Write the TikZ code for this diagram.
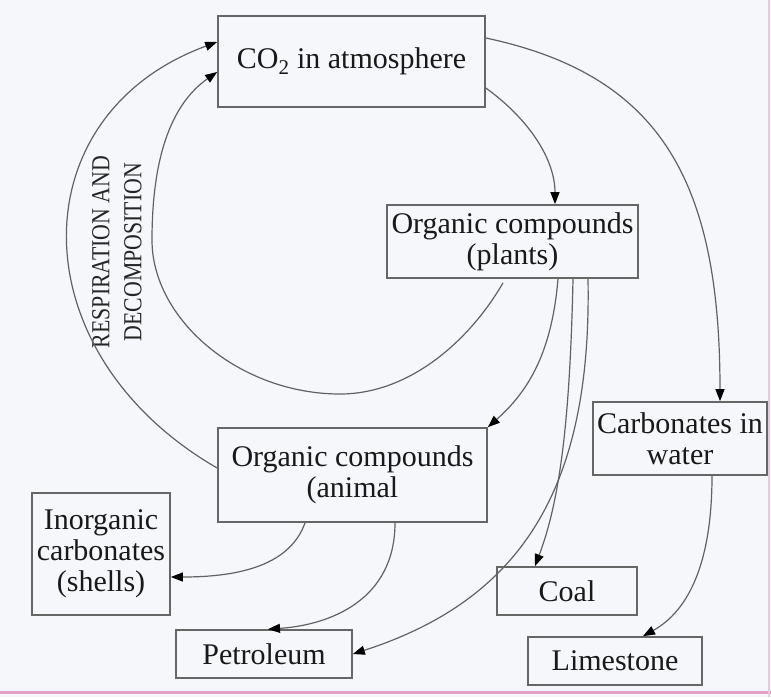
\documentclass[tikz,border=0pt]{standalone}
\usepackage{fontspec}
\setmainfont{Liberation Serif}
\newfontfamily\lblfont[FakeStretch=0.84]{Liberation Serif}
\usetikzlibrary{arrows.meta,calc}
\definecolor{edgepink}{RGB}{230,160,195}
\definecolor{bgpaper}{RGB}{246,247,251}
\begin{document}
\begin{tikzpicture}[x=1pt,y=-1pt,
  box/.style={draw=black!60, line width=1.7pt, inner sep=0pt, align=center,
    font=\fontsize{30}{31}\selectfont, text=black!90},
  conn/.style={draw=black!62, line width=1.2pt, -{Triangle[length=12pt,width=9pt,fill=black,color=black]}},
  lbl/.style={align=center, font=\lblfont\fontsize{26}{32}\selectfont, text=black!85, inner sep=0pt}
]
\fill[bgpaper] (0,0) rectangle (771,697);
\useasboundingbox (0,0) rectangle (771,697);
\draw[edgepink, line width=3pt] (0,692) -- (771,692);
\draw[edgepink!60, line width=2pt] (769,0) -- (769,697);

\node[box, minimum width=267pt, minimum height=91pt] (co2) at (351.5,61.5) {CO\textsubscript{2} in atmosphere};
\node[box, minimum width=251pt, minimum height=73pt] (plants) at (512.5,241.5) {Organic compounds\\(plants)};
\node[box, minimum width=269pt, minimum height=94pt] (animal) at (352.5,475) {Organic compounds\\(animal};
\node[box, minimum width=138pt, minimum height=122pt] (inorg) at (101,554) {Inorganic\\carbonates\\(shells)};
\node[box, minimum width=176pt, minimum height=48pt] (petro) at (264,654) {Petroleum};
\node[box, minimum width=174pt, minimum height=73pt] (water) at (680,438.5) {Carbonates in\\water};
\node[box, minimum width=140pt, minimum height=48pt] (coal) at (567,591) {Coal};
\node[box, minimum width=174pt, minimum height=48pt] (lime) at (615,661) {Limestone};
\node[lbl, rotate=90] (resp) at (117,252) {RESPIRATION AND\\DECOMPOSITION};

\draw[conn] ($(animal.west)+(0,-7)$) .. controls (18,353) and (18,115) .. ($(co2.west)+(0,-19.5)$);
\draw[conn] ($(plants.south)+(-9.5,4)$) .. controls (470,340) and (410,394) .. (340,394)
  .. controls (240,394) and (152,320) .. (152,240)
  .. controls (152,160) and (170,105) .. ($(co2.west)+(0,10.5)$);
\draw[conn] ($(co2.east)+(0,26.5)$) .. controls (530,120) and (555,160) .. ($(plants.north)+(42.5,0)$);
\draw[conn] ($(co2.east)+(0,-23.5)$) .. controls (660,75) and (720,180) .. ($(water.north)+(40,0)$);
\draw[conn] ($(plants.south)+(45.5,0)$) .. controls (552,350) and (530,390) .. (animal.north east);
\draw[conn] ($(plants.south)+(60.5,0)$) .. controls (570,420) and (560,500) .. ($(coal.north)+(-32,0)$);
\draw[conn] ($(plants.south)+(75.5,0)$) .. controls (592,490) and (520,600) .. (petro.east);
\draw[conn] ($(animal.south)+(-47.5,0)$) .. controls (290,565) and (240,577) .. ($(inorg.east)+(0,23)$);
\draw[conn] ($(animal.south)+(42.5,0)$) .. controls (395,600) and (330,625) .. ($(petro.north)+(4,0)$);
\draw[conn] ($(water.south)+(32,0)$) .. controls (712,560) and (690,610) .. ($(lime.north)+(28,0)$);
\end{tikzpicture}
\end{document}
